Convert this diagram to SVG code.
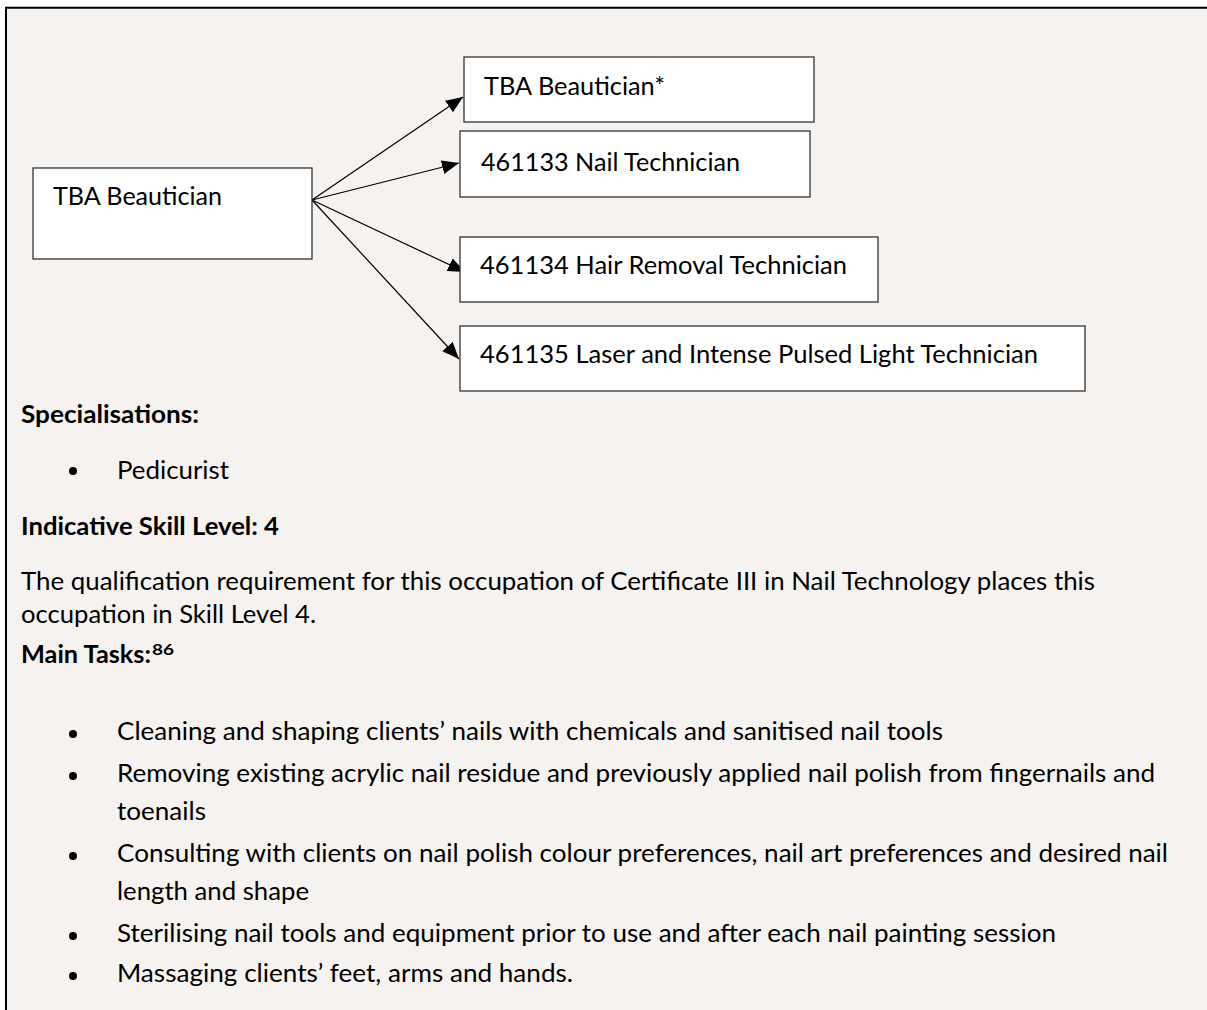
<svg xmlns="http://www.w3.org/2000/svg" width="1207" height="1010" viewBox="0 0 1207 1010">
<style>
.t{font-family:Lato,"Liberation Sans",sans-serif;font-size:25px;fill:#000}
.b{font-weight:700}
.box{fill:#fff;stroke:#333;stroke-width:1.3}
.con{stroke:#000;stroke-width:1.2;fill:none}
.dot{fill:#000}
</style>
<defs>
<marker id="ah" markerUnits="userSpaceOnUse" markerWidth="18" markerHeight="15" refX="17" refY="7" orient="auto">
<path d="M0,0 L17,7 L0,14 z" fill="#000"/>
</marker>
</defs>
<rect width="1207" height="1010" fill="#fff"/>
<rect x="6" y="8" width="1201" height="1002" fill="#f5f2ef"/>
<path d="M6,1010 V7.7 H1207" fill="none" stroke="#000" stroke-width="2"/>

<g id="connectors">
<line class="con" x1="312" y1="200" x2="463" y2="97" marker-end="url(#ah)"/>
<line class="con" x1="312" y1="200" x2="459" y2="163" marker-end="url(#ah)"/>
<line class="con" x1="312" y1="200" x2="465" y2="272" marker-end="url(#ah)"/>
<line class="con" x1="312" y1="200" x2="459" y2="359" marker-end="url(#ah)"/>
</g>

<g id="node-source">
<rect class="box" x="33" y="168" width="279" height="91"/>
<text class="t" x="53" y="205" textLength="169" lengthAdjust="spacingAndGlyphs">TBA Beautician</text>
</g>
<g id="node-tba-star">
<rect class="box" x="464" y="57" width="350" height="65"/>
<text class="t" x="484" y="95" textLength="181" lengthAdjust="spacingAndGlyphs">TBA Beautician*</text>
</g>
<g id="node-461133">
<rect class="box" x="460" y="131" width="350" height="66"/>
<text class="t" x="481" y="171" textLength="259" lengthAdjust="spacingAndGlyphs">461133 Nail Technician</text>
</g>
<g id="node-461134">
<rect class="box" x="460" y="237" width="418" height="65"/>
<text class="t" x="480" y="274" textLength="367" lengthAdjust="spacingAndGlyphs">461134 Hair Removal Technician</text>
</g>
<g id="node-461135">
<rect class="box" x="460" y="326" width="625" height="65"/>
<text class="t" x="480" y="363" textLength="558" lengthAdjust="spacingAndGlyphs">461135 Laser and Intense Pulsed Light Technician</text>
</g>

<g id="body">
<text class="t b" x="21" y="423" textLength="178" lengthAdjust="spacingAndGlyphs">Specialisations:</text>
<circle class="dot" cx="73" cy="471" r="4"/>
<text class="t" x="117" y="479" textLength="112" lengthAdjust="spacingAndGlyphs">Pedicurist</text>
<text class="t b" x="21" y="535" textLength="258" lengthAdjust="spacingAndGlyphs">Indicative Skill Level: 4</text>
<text class="t" x="21" y="590" textLength="1074" lengthAdjust="spacingAndGlyphs">The qualification requirement for this occupation of Certificate III in Nail Technology places this</text>
<text class="t" x="21" y="623" textLength="295" lengthAdjust="spacingAndGlyphs">occupation in Skill Level 4.</text>
<text class="t b" x="21" y="663" textLength="130" lengthAdjust="spacingAndGlyphs">Main Tasks:</text>
<text class="t b" x="152" y="655" style="font-size:15px" textLength="22" lengthAdjust="spacingAndGlyphs">86</text>
<circle class="dot" cx="73" cy="734" r="4"/>
<text class="t" x="117" y="740" textLength="826" lengthAdjust="spacingAndGlyphs">Cleaning and shaping clients’ nails with chemicals and sanitised nail tools</text>
<circle class="dot" cx="73" cy="776" r="4"/>
<text class="t" x="117" y="782" textLength="1038" lengthAdjust="spacingAndGlyphs">Removing existing acrylic nail residue and previously applied nail polish from fingernails and</text>
<text class="t" x="117" y="820" textLength="89" lengthAdjust="spacingAndGlyphs">toenails</text>
<circle class="dot" cx="73" cy="856" r="4"/>
<text class="t" x="117" y="862" textLength="1051" lengthAdjust="spacingAndGlyphs">Consulting with clients on nail polish colour preferences, nail art preferences and desired nail</text>
<text class="t" x="117" y="900" textLength="192" lengthAdjust="spacingAndGlyphs">length and shape</text>
<circle class="dot" cx="73" cy="936" r="4"/>
<text class="t" x="117" y="942" textLength="939" lengthAdjust="spacingAndGlyphs">Sterilising nail tools and equipment prior to use and after each nail painting session</text>
<circle class="dot" cx="73" cy="976" r="4"/>
<text class="t" x="117" y="982" textLength="456" lengthAdjust="spacingAndGlyphs">Massaging clients’ feet, arms and hands.</text>
</g>
</svg>
